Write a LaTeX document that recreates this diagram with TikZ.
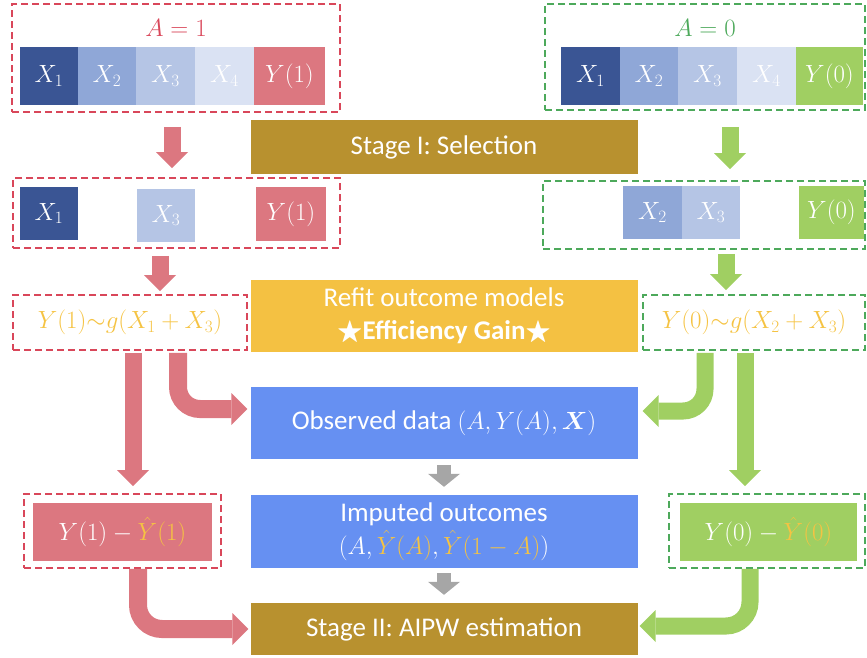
\documentclass[tikz,border=0pt]{standalone}
\usepackage{amsmath,amssymb}
\usepackage{fontspec}
\setmainfont{Carlito}
\usetikzlibrary{arrows.meta}
\definecolor{xone}{HTML}{3A5594}
\definecolor{xtwo}{HTML}{8FA7D7}
\definecolor{xthree}{HTML}{B5C5E5}
\definecolor{xfour}{HTML}{DAE2F3}
\definecolor{yred}{HTML}{DC7780}
\definecolor{ygreen}{HTML}{A0CF62}
\definecolor{dashred}{HTML}{D9475A}
\definecolor{dashgreen}{HTML}{4DA95B}
\definecolor{stagegold}{HTML}{B8912F}
\definecolor{refitgold}{HTML}{F4C142}
\definecolor{obsblue}{HTML}{6690F2}
\definecolor{yel}{HTML}{F5C343}
\definecolor{arrgray}{HTML}{A6A6A6}
\newcommand{\YEL}[1]{{\color{yel}#1}}

\begin{document}
\begin{tikzpicture}[x=1pt,y=-1pt,
   every node/.style={font=\fontsize{27}{33}\selectfont},
   cell/.style={rectangle,inner sep=0pt,minimum width=58.5pt,minimum height=58pt,text=white},
   redgroup/.style={rectangle,draw=dashred,line width=1.8pt,dash pattern=on 7pt off 4pt,inner sep=0pt},
   greengroup/.style={redgroup,draw=dashgreen},
   midbox/.style={rectangle,text=white,minimum width=387pt,inner sep=0pt,align=center},
   fatarrow/.style={line width=#1,-{Triangle[width=32pt,length=16pt,line width=0pt]}},
   redarrow/.style={fatarrow=17pt,yred},
   greenarrow/.style={fatarrow=17pt,ygreen},
   grayarrow/.style={line width=14pt,arrgray,-{Triangle[width=32pt,length=13pt,line width=0pt]}}]
   \useasboundingbox (0,0) rectangle (867,657);
   % treated group A=1
   \node (topL) at (176,58) [redgroup,minimum width=328pt,minimum height=108pt] {};
   \node (titleL) at (176,28) [text=dashred] {$A=1$};
   \node (x1a) at (49,76) [cell,fill=xone] {$X_1$};
   \node (x2a) at (107,76) [cell,fill=xtwo] {$X_2$};
   \node (x3a) at (165.5,76) [cell,fill=xthree] {$X_3$};
   \node (x4a) at (224.5,76) [cell,fill=xfour] {$X_4$};
   \node (y1a) at (289.5,76) [cell,fill=yred,minimum width=71pt] {$Y(1)$};
   % control group A=0
   \node (topR) at (705,57) [greengroup,minimum width=320pt,minimum height=106pt] {};
   \node (titleR) at (705,28) [text=dashgreen] {$A=0$};
   \node (x1b) at (590.5,76) [cell,fill=xone] {$X_1$};
   \node (x2b) at (649,76) [cell,fill=xtwo] {$X_2$};
   \node (x3b) at (707.5,76) [cell,fill=xthree] {$X_3$};
   \node (x4b) at (766.5,76) [cell,fill=xfour] {$X_4$};
   \node (y0b) at (829.5,76) [cell,fill=ygreen,minimum width=67pt] {$Y(0)$};
   % centre column
   \node (stage1) at (444,147) [midbox,fill=stagegold,minimum height=54pt] {Stage I: Selection};
   \node (refit) at (444,316) [midbox,fill=refitgold,minimum height=72pt] {Refit outcome models\\$\bigstar$\textbf{Efficiency Gain}$\bigstar$};
   \node (obs) at (444,423) [midbox,fill=obsblue,minimum height=72pt] {Observed data $(A,Y(A),\boldsymbol{X})$};
   \node (imp) at (444,531.5) [midbox,fill=obsblue,minimum height=73pt] {Imputed outcomes\\$(A,\YEL{\hat{Y}(A)},\YEL{\hat{Y}(1-A)})$};
   \node (stage2) at (444,629) [midbox,fill=stagegold,minimum height=52pt] {Stage II: AIPW estimation};
   % selected covariates
   \node (selL) at (176.5,213) [redgroup,minimum width=327pt,minimum height=70pt] {};
   \node (x1c) at (49,213.5) [cell,fill=xone,minimum height=53pt] {$X_1$};
   \node (x3c) at (166,215.5) [cell,fill=xthree,minimum height=53pt] {$X_3$};
   \node (y1c) at (291,214) [cell,fill=yred,minimum width=70pt,minimum height=54pt] {$Y(1)$};
   \node (selR) at (704,215) [greengroup,minimum width=322pt,minimum height=68pt] {};
   \node (x2d) at (652.5,212.5) [cell,fill=xtwo,minimum height=53pt] {$X_2$};
   \node (x3d) at (711,212.5) [cell,fill=xthree,minimum height=53pt] {$X_3$};
   \node (y0d) at (831.5,212) [cell,fill=ygreen,minimum width=65pt,minimum height=53pt] {$Y(0)$};
   % outcome models
   \node (fitL) at (130,322.5) [redgroup,minimum width=234pt,minimum height=55pt,text=yel] {$Y(1){\sim}g(X_1+X_3)$};
   \node (fitR) at (754,322.5) [greengroup,minimum width=222pt,minimum height=55pt,text=yel] {$Y(0){\sim}g(X_2+X_3)$};
   % residuals
   \node (resL) at (122.5,531) [redgroup,minimum width=197pt,minimum height=74pt] {};
   \node (difL) at (122.5,532) [cell,fill=yred,minimum width=179pt] {$Y(1)-\YEL{\hat{Y}(1)}$};
   \node (resR) at (767,531) [greengroup,minimum width=196pt,minimum height=74pt] {};
   \node (difR) at (768.5,532) [cell,fill=ygreen,minimum width=177pt] {$Y(0)-\YEL{\hat{Y}(0)}$};
   % connectors
   \draw[redarrow,shorten <=14pt,shorten >=9pt] (172,0 |- topL.south) -- (172,0 |- selL.north);
   \draw[greenarrow,shorten <=16pt,shorten >=11pt] (730,0 |- topR.south) -- (730,0 |- selR.north);
   \draw[redarrow,shorten <=7pt,shorten >=3pt] (160,0 |- selL.south) -- (160,0 |- fitL.north);
   \draw[greenarrow,shorten <=4pt,shorten >=4pt] (726,0 |- selR.south) -- (726,0 |- fitR.north);
   \draw[redarrow,shorten <=2pt,shorten >=7pt] (133,0 |- fitL.south) -- (133,0 |- resL.north);
   \draw[greenarrow,shorten <=2pt,shorten >=7pt] (745,0 |- fitR.south) -- (745,0 |- resR.north);
   \draw[redarrow,line width=18pt,rounded corners=22pt,shorten <=2pt,shorten >=3pt] (178,0 |- fitL.south) |- ([yshift=14pt]obs.west);
   \draw[greenarrow,rounded corners=22pt,shorten <=2pt,shorten >=5pt] (705,0 |- fitR.south) |- ([yshift=12pt]obs.east);
   \draw[redarrow,line width=18pt,rounded corners=24pt,shorten >=2pt] (138,0 |- resL.south) |- (stage2.west);
   \draw[greenarrow,rounded corners=24pt,shorten >=2pt] (750,0 |- resR.south) |- ([yshift=3pt]stage2.east);
   \draw[grayarrow,shorten <=6pt,shorten >=8pt] (obs.south) -- (imp.north);
   \draw[grayarrow,shorten <=5pt,shorten >=8pt] (imp.south) -- (stage2.north);
\end{tikzpicture}
\end{document}
